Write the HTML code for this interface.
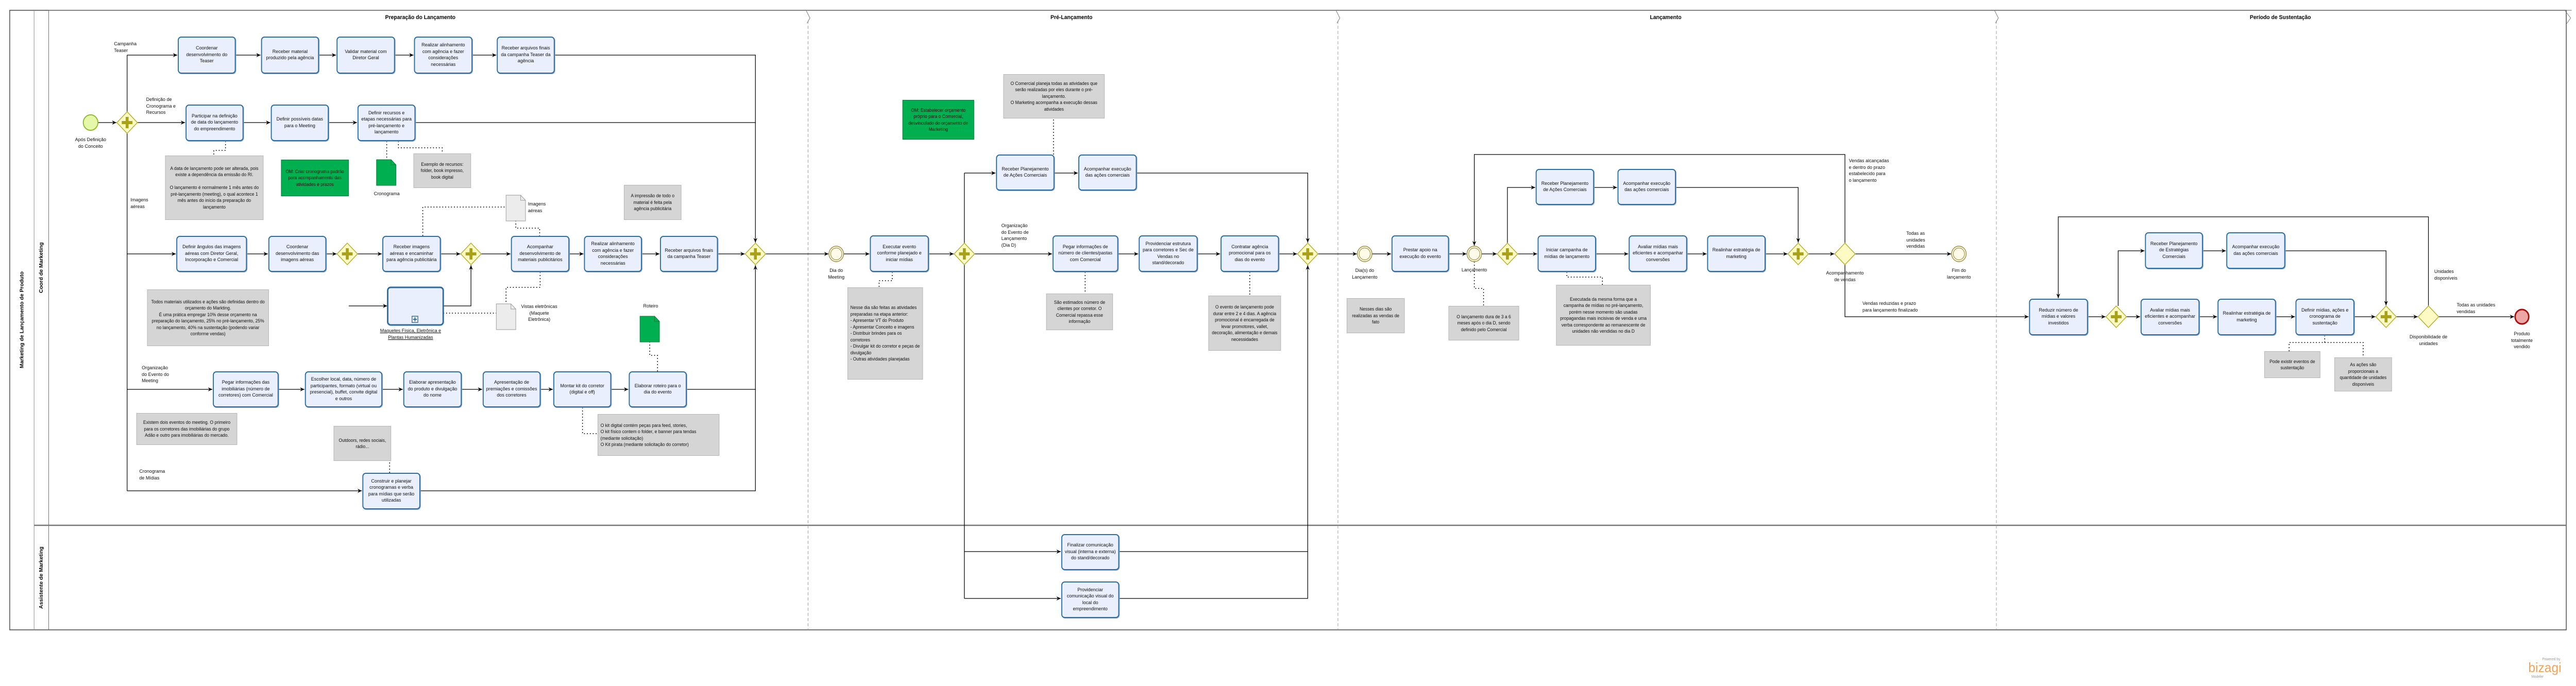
<!DOCTYPE html>
<html><head><meta charset="utf-8"><style>
html,body{margin:0;padding:0;background:#fff;width:100%;height:100%;overflow:hidden;}
#outer{display:block;width:100vw;height:100vh;}
#c{position:relative;width:5289px;height:1332px;overflow:hidden;font-family:"Liberation Sans",sans-serif;background:#fff;}
#c svg{position:absolute;left:0;top:0;}
.t{position:absolute;box-sizing:border-box;border:2px solid #2a6da5;border-radius:7px;background:#e9effd;display:flex;align-items:center;justify-content:center;text-align:center;font-size:9.5px;line-height:12.5px;color:#111;padding:2px 5px;box-shadow:1px 1px 0 #9ab;overflow:hidden;}
.n{position:absolute;box-sizing:border-box;background:#d5d5d5;border:1px solid #b5b5b5;display:flex;align-items:center;justify-content:center;text-align:center;font-size:9px;line-height:12.5px;color:#111;padding:3px 5px;overflow:hidden;}
.g{position:absolute;box-sizing:border-box;background:#00b050;border:1px solid #0a7a3a;display:flex;align-items:center;justify-content:center;text-align:center;font-size:9px;line-height:12.5px;color:#111;padding:3px 5px;overflow:hidden;}
.l{position:absolute;font-size:9.5px;line-height:12.5px;color:#111;white-space:nowrap;}
.lc{position:absolute;font-size:9.5px;line-height:12.5px;color:#111;text-align:center;white-space:nowrap;width:160px;}
.h{position:absolute;font-size:11px;font-weight:bold;white-space:nowrap;width:300px;text-align:center;}
.v{position:absolute;font-size:10.5px;font-weight:bold;white-space:nowrap;writing-mode:vertical-rl;transform:rotate(180deg);display:flex;align-items:center;justify-content:center;}
</style></head><body>
<svg id="outer" viewBox="0 0 5289 1332" preserveAspectRatio="none" xmlns="http://www.w3.org/2000/svg">
<foreignObject x="0" y="0" width="5289" height="1332">
<div xmlns="http://www.w3.org/1999/xhtml" id="c">
<svg width="5289" height="1332" xmlns="http://www.w3.org/2000/svg">
<defs>
<marker id="a" markerWidth="10" markerHeight="10" refX="9" refY="5" orient="auto" markerUnits="userSpaceOnUse"><path d="M0,1 L9,5 L0,9 L3,5 z" fill="#000"/></marker>
<g id="pg"><path d="M0,-21 L21,0 L0,21 L-21,0 z" fill="#fdfbc3" stroke="#b2ae2a" stroke-width="1.5"/><path d="M-3,-11 h6 v8 h8 v6 h-8 v8 h-6 v-8 h-8 v-6 h8 z" fill="#a9a11a"/></g>
<g id="xg"><path d="M0,-21 L21,0 L0,21 L-21,0 z" fill="#fdfbc3" stroke="#b2ae2a" stroke-width="1.5"/></g>
<g id="ie"><circle r="15" fill="#fffbe8" stroke="#9c9040" stroke-width="1.5"/><circle r="11.5" fill="none" stroke="#9c9040" stroke-width="1.2"/></g>
<g id="gd"><path d="M-20,-25 h30 l10,10 v40 h-40 z" fill="#00b050" stroke="#0a7a3a"/><path d="M10,-25 v10 h10" fill="none" stroke="#0a7a3a"/></g>
<g id="wd"><path d="M-20,-25 h30 l10,10 v40 h-40 z" fill="#ececec" stroke="#999"/><path d="M10,-25 v10 h10" fill="none" stroke="#999"/></g>
</defs>
<rect x="20" y="20" width="5249" height="1203" fill="none" stroke="#444" stroke-width="1.5"/>
<line x1="70" y1="20" x2="70" y2="1223" stroke="#888" stroke-width="1"/>
<line x1="100" y1="20" x2="100" y2="1223" stroke="#666" stroke-width="1"/>
<line x1="70" y1="1020" x2="5269" y2="1020" stroke="#777" stroke-width="2.5"/>
<line x1="100" y1="20" x2="5280" y2="20" stroke="#666" stroke-width="1"/>
<g stroke="#999" stroke-width="1" stroke-dasharray="6,4" fill="none">
<line x1="1659" y1="40" x2="1659" y2="1223"/><line x1="2747" y1="40" x2="2747" y2="1223"/><line x1="4099" y1="40" x2="4099" y2="1223"/>
</g>
<g stroke="#777" fill="none" stroke-width="1"><path d="M1655,20 l8,15 l-6,10"/><path d="M2743,20 l8,15 l-6,10"/><path d="M4095,20 l8,15 l-6,10"/><path d="M5266,20 l12,15 l-9,12"/></g>

<g stroke="#000" stroke-width="1.3" fill="none">
<line x1="201" y1="238" x2="239" y2="238" marker-end="url(#a)"/>
<line x1="261" y1="107" x2="261" y2="953"/>
<line x1="261" y1="107" x2="364" y2="107" marker-end="url(#a)"/>
<line x1="484" y1="107" x2="535" y2="107" marker-end="url(#a)"/>
<line x1="655" y1="107" x2="690" y2="107" marker-end="url(#a)"/>
<line x1="811" y1="107" x2="849" y2="107" marker-end="url(#a)"/>
<line x1="970" y1="107" x2="1019" y2="107" marker-end="url(#a)"/>
<path d="M1139,107 H1551 V471" marker-end="url(#a)"/>
<line x1="282" y1="238" x2="380" y2="238" marker-end="url(#a)"/>
<line x1="500" y1="238" x2="555" y2="238" marker-end="url(#a)"/>
<line x1="675" y1="238" x2="733" y2="238" marker-end="url(#a)"/>
<path d="M853,238 H1551"/>
<line x1="261" y1="493" x2="361" y2="493" marker-end="url(#a)"/>
<line x1="507" y1="493" x2="550" y2="493" marker-end="url(#a)"/>
<line x1="670" y1="493" x2="691" y2="493" marker-end="url(#a)"/>
<line x1="734" y1="493" x2="784" y2="493" marker-end="url(#a)"/>
<line x1="905" y1="493" x2="945" y2="493" marker-end="url(#a)"/>
<line x1="988" y1="493" x2="1048" y2="493" marker-end="url(#a)"/>
<line x1="1169" y1="493" x2="1198" y2="493" marker-end="url(#a)"/>
<line x1="1318" y1="493" x2="1354" y2="493" marker-end="url(#a)"/>
<line x1="1474" y1="493" x2="1529" y2="493" marker-end="url(#a)"/>
<line x1="1572" y1="493" x2="1701" y2="493" marker-end="url(#a)"/>
<line x1="716" y1="594" x2="795" y2="594" marker-end="url(#a)"/>
<path d="M910,594 H967 V515" marker-end="url(#a)"/>
<line x1="261" y1="756" x2="436" y2="756" marker-end="url(#a)"/>
<line x1="572" y1="756" x2="625" y2="756" marker-end="url(#a)"/>
<line x1="785" y1="756" x2="827" y2="756" marker-end="url(#a)"/>
<line x1="948" y1="756" x2="990" y2="756" marker-end="url(#a)"/>
<line x1="1110" y1="756" x2="1135" y2="756" marker-end="url(#a)"/>
<line x1="1255" y1="756" x2="1290" y2="756" marker-end="url(#a)"/>
<path d="M1410,756 H1551"/>
<line x1="261" y1="953" x2="743" y2="953" marker-end="url(#a)"/>
<path d="M863,953 H1551 V515" marker-end="url(#a)"/>
<line x1="1732" y1="493" x2="1785" y2="493" marker-end="url(#a)"/>
<line x1="1907" y1="493" x2="1958" y2="493" marker-end="url(#a)"/>
<line x1="1980" y1="336" x2="1980" y2="1162"/>
<line x1="1980" y1="336" x2="2044" y2="336" marker-end="url(#a)"/>
<line x1="2165" y1="336" x2="2213" y2="336" marker-end="url(#a)"/>
<path d="M2334,336 H2685 V471" marker-end="url(#a)"/>
<line x1="2001" y1="493" x2="2160" y2="493" marker-end="url(#a)"/>
<line x1="2296" y1="493" x2="2337" y2="493" marker-end="url(#a)"/>
<line x1="2459" y1="493" x2="2505" y2="493" marker-end="url(#a)"/>
<line x1="2626" y1="493" x2="2663" y2="493" marker-end="url(#a)"/>
<line x1="1980" y1="1071" x2="2178" y2="1071" marker-end="url(#a)"/>
<line x1="1980" y1="1162" x2="2178" y2="1162" marker-end="url(#a)"/>
<path d="M2298,1071 H2685"/>
<path d="M2298,1162 H2685 V515" marker-end="url(#a)"/>
<line x1="2706" y1="493" x2="2786" y2="493" marker-end="url(#a)"/>
<line x1="2817" y1="493" x2="2856" y2="493" marker-end="url(#a)"/>
<line x1="2975" y1="493" x2="3011" y2="493" marker-end="url(#a)"/>
<line x1="3042" y1="493" x2="3073" y2="493" marker-end="url(#a)"/>
<line x1="3116" y1="493" x2="3156" y2="493" marker-end="url(#a)"/>
<path d="M3095,472 V364 H3152" marker-end="url(#a)"/>
<line x1="3273" y1="364" x2="3320" y2="364" marker-end="url(#a)"/>
<path d="M3441,364 H3692 V471" marker-end="url(#a)"/>
<line x1="3277" y1="493" x2="3343" y2="493" marker-end="url(#a)"/>
<line x1="3464" y1="493" x2="3504" y2="493" marker-end="url(#a)"/>
<line x1="3625" y1="493" x2="3670" y2="493" marker-end="url(#a)"/>
<line x1="3713" y1="493" x2="3766" y2="493" marker-end="url(#a)"/>
<line x1="3809" y1="493" x2="4006" y2="493" marker-end="url(#a)"/>
<path d="M3788,472 V300 H3027 V477" marker-end="url(#a)"/>
<path d="M3788,514 V615 H4165" marker-end="url(#a)"/>
<line x1="4287" y1="615" x2="4323" y2="615" marker-end="url(#a)"/>
<line x1="4366" y1="615" x2="4394" y2="615" marker-end="url(#a)"/>
<line x1="4516" y1="615" x2="4552" y2="615" marker-end="url(#a)"/>
<line x1="4673" y1="615" x2="4712" y2="615" marker-end="url(#a)"/>
<line x1="4834" y1="615" x2="4877" y2="615" marker-end="url(#a)"/>
<line x1="4920" y1="615" x2="4964" y2="615" marker-end="url(#a)"/>
<line x1="5007" y1="615" x2="5162" y2="615" marker-end="url(#a)"/>
<path d="M4349,594 V487 H4403" marker-end="url(#a)"/>
<line x1="4523" y1="487" x2="4570" y2="487" marker-end="url(#a)"/>
<path d="M4692,487 H4899 V593" marker-end="url(#a)"/>
<path d="M4986,594 V421 H4226 V579" marker-end="url(#a)"/>
</g>
<g stroke="#000" stroke-width="1.5" fill="none" stroke-dasharray="2,4">
<path d="M463,274 V292 H439 V302"/>
<path d="M794,274 V308"/>
<path d="M818,274 V287 H908 V298"/>
<path d="M868,458 V402 H1039"/>
<path d="M1059,428 V443 H1108 V458"/>
<path d="M1109,528 V558 H1039 V590"/>
<path d="M910,608 H1019"/>
<path d="M1350,721 V690 H1334 V663"/>
<path d="M1196,791 V842 H1227"/>
<path d="M744,870 H800 V918"/>
<path d="M1832,528 V545 H1805 V558"/>
<path d="M2163,300 V272 H2163 V230"/>
<path d="M2228,528 V570"/>
<path d="M2566,528 V574"/>
<path d="M3027,508 V560 H3046 V594"/>
<path d="M3217,528 V538 H3290 V553"/>
<path d="M4773,651 V665 H4700 V682"/>
<path d="M4773,665 H4852 V694"/>
</g>
<circle cx="186" cy="238" r="15" fill="#e4f8a8" stroke="#8dbb2f" stroke-width="2"/>
<use href="#pg" x="261" y="238"/>
<use href="#pg" x="713" y="493"/>
<use href="#pg" x="967" y="493"/>
<use href="#pg" x="1551" y="493"/>
<use href="#ie" x="1717" y="493"/>
<use href="#pg" x="1980" y="493"/>
<use href="#pg" x="2685" y="493"/>
<use href="#ie" x="2802" y="493"/>
<use href="#ie" x="3027" y="493"/>
<use href="#pg" x="3095" y="493"/>
<use href="#pg" x="3692" y="493"/>
<use href="#xg" x="3788" y="493"/>
<use href="#ie" x="4022" y="493"/>
<use href="#pg" x="4345" y="615"/>
<use href="#pg" x="4899" y="615"/>
<use href="#xg" x="4986" y="615"/>
<circle cx="5178" cy="615" r="14" fill="#eea5a5" stroke="#a81010" stroke-width="3"/>
<use href="#gd" x="793" y="335"/>
<use href="#wd" x="1059" y="404"/>
<use href="#wd" x="1039" y="615"/>
<use href="#gd" x="1334" y="639"/>
<rect x="796" y="558" width="114" height="73" rx="6" fill="#e9effd" stroke="#2a6da5" stroke-width="3"/>
<rect x="846" y="614" width="12" height="12" fill="#fff" stroke="#2a6da5" stroke-width="1.5"/>
<path d="M852,616 v8 M848,620 h8" stroke="#2a6da5" stroke-width="2"/>
<text x="5225" y="1305" font-family="Liberation Sans" font-size="26" fill="#f3a25a" text-anchor="middle">bizagi</text>
<text x="5238" y="1282" font-family="Liberation Sans" font-size="7" fill="#999" text-anchor="middle">Powered by</text>
<text x="5210" y="1316" font-family="Liberation Sans" font-size="7" fill="#999" text-anchor="middle">Modeler</text>
</svg>

<div class="v" style="left:22px;top:20px;width:46px;height:1203px">Marketing de Lançamento de Produto</div>
<div class="v" style="left:71px;top:20px;width:28px;height:1000px">Coord de Marketing</div>
<div class="v" style="left:71px;top:1021px;width:28px;height:202px">Assistente de Marketing</div>
<div class="h" style="left:713px;top:28px">Preparação do Lançamento</div>
<div class="h" style="left:2050px;top:28px">Pré-Lançamento</div>
<div class="h" style="left:3270px;top:28px">Lançamento</div>
<div class="h" style="left:4532px;top:28px">Período de Sustentação</div>

<div class="t" style="left:365px;top:71px;width:119px;height:72px">Coordenar desenvolvimento do Teaser</div>
<div class="t" style="left:536px;top:71px;width:119px;height:72px">Receber material produzido pela agência</div>
<div class="t" style="left:691px;top:71px;width:120px;height:72px">Validar material com Diretor Geral</div>
<div class="t" style="left:850px;top:71px;width:120px;height:72px">Realizar alinhamento com agência e fazer considerações necessárias</div>
<div class="t" style="left:1020px;top:71px;width:119px;height:72px">Receber arquivos finais da campanha Teaser da agência</div>
<div class="t" style="left:381px;top:203px;width:119px;height:71px">Participar na definição de data do lançamento do empreendimento</div>
<div class="t" style="left:556px;top:203px;width:119px;height:71px">Definir possíveis datas para o Meeting</div>
<div class="t" style="left:734px;top:203px;width:119px;height:71px">Definir recursos e etapas necessárias para pré-lançamento e lançamento</div>
<div class="t" style="left:362px;top:458px;width:145px;height:70px">Definir ângulos das imagens aéreas com Diretor Geral, Incorporação e Comercial</div>
<div class="t" style="left:551px;top:458px;width:119px;height:70px">Coordenar desenvolvimento das imagens aéreas</div>
<div class="t" style="left:785px;top:458px;width:120px;height:70px">Receber imagens aéreas e encaminhar para agência publicitária</div>
<div class="t" style="left:1049px;top:458px;width:120px;height:70px">Acompanhar desenvolvimento de materiais publicitários</div>
<div class="t" style="left:1199px;top:458px;width:119px;height:70px">Realizar alinhamento com agência e fazer considerações necessárias</div>
<div class="t" style="left:1355px;top:458px;width:119px;height:70px">Receber arquivos finais da campanha Teaser</div>
<div class="t" style="left:437px;top:721px;width:135px;height:70px">Pegar informações das imobiliárias (número de corretores) com Comercial</div>
<div class="t" style="left:626px;top:721px;width:159px;height:70px">Escolher local, data, número de participantes, formato (virtual ou presencial), buffet, convite digital e outros</div>
<div class="t" style="left:828px;top:721px;width:120px;height:70px">Elaborar apresentação do produto e divulgação do nome</div>
<div class="t" style="left:991px;top:721px;width:119px;height:70px">Apresentação de premiações e comissões dos corretores</div>
<div class="t" style="left:1136px;top:721px;width:119px;height:70px">Montar kit do corretor (digital e off)</div>
<div class="t" style="left:1291px;top:721px;width:119px;height:70px">Elaborar roteiro para o dia do evento</div>
<div class="t" style="left:744px;top:918px;width:119px;height:71px">Construir e planejar cronogramas e verba para mídias que serão utilizadas</div>

<div class="l" style="left:234px;top:80px">Campanha<br/>Teaser</div>
<div class="l" style="left:300px;top:188px">Definição de<br/>Cronograma e<br/>Recursos</div>
<div class="lc" style="left:106px;top:266px">Após Definição<br/>do Conceito</div>
<div class="l" style="left:268px;top:383px">Imagens<br/>aéreas</div>
<div class="l" style="left:291px;top:709px">Organização<br/>do Evento do<br/>Meeting</div>
<div class="l" style="left:286px;top:910px">Cronograma<br/>de Mídias</div>
<div class="lc" style="left:714px;top:371px">Cronograma</div>
<div class="l" style="left:1084px;top:391px">Imagens<br/>aéreas</div>
<div class="l" style="left:1070px;top:590px;text-align:center">Vistas eletrônicas<br/>(Maquete<br/>Eletrônica)</div>
<div class="lc" style="left:1256px;top:589px">Roteiro</div>
<div class="lc" style="left:763px;top:637px;text-decoration:underline">Maquetes Física, Eletrônica e<br/>Plantas Humanizadas</div>

<div class="n" style="left:339px;top:302px;width:202px;height:125px">A data de lançamento pode ser alterada, pois existe a dependência da emissão do RI.<br/><br/>O lançamento é normalmente 1 mês antes do pré-lançamento (meeting), o qual acontece 1 mês antes do início da preparação do lançamento</div>
<div class="g" style="left:577px;top:310px;width:139px;height:71px">OM: Criar cronograma padrão para acompanhamento das atividades e prazos</div>
<div class="n" style="left:849px;top:298px;width:118px;height:67px">Exemplo de recursos: folder, book impresso, book digital</div>
<div class="n" style="left:1281px;top:359px;width:118px;height:68px">A impressão de todo o material é feita pela agência publicitária</div>
<div class="n" style="left:302px;top:562px;width:250px;height:110px">Todos materiais utilizados e ações são definidas dentro do orçamento do Markting.<br/>É uma prática empregar 10% desse orçamento na preparação do lançamento, 25% no pré-lançamento, 25% no lançamento, 40% na sustentação (podendo variar conforme vendas)</div>
<div class="n" style="left:280px;top:802px;width:207px;height:62px">Existem dois eventos do meeting. O primeiro para os corretores das imobiliárias do grupo Adão e outro para imobiliárias do mercado.</div>
<div class="n" style="left:685px;top:827px;width:118px;height:68px">Outdoors, redes sociais, rádio...</div>
<div class="n" style="left:1227px;top:804px;width:250px;height:81px;text-align:left;justify-content:flex-start">O kit digital contém peças para feed, stories,<br/>O kit físico contem o folder, e banner para tendas (mediante solicitação)<br/>O Kit pirata (mediante solicitação do corretor)</div>

<div class="lc" style="left:1637px;top:520px">Dia do<br/>Meeting</div>
<div class="t" style="left:1786px;top:457px;width:121px;height:71px">Executar evento conforme planejado e iniciar mídias</div>
<div class="t" style="left:2045px;top:300px;width:120px;height:70px">Receber Planejamento de Ações Comerciais</div>
<div class="t" style="left:2214px;top:300px;width:120px;height:70px">Acompanhar execução das ações comerciais</div>
<div class="t" style="left:2161px;top:457px;width:135px;height:71px">Pegar informações de número de clientes/pastas com Comercial</div>
<div class="t" style="left:2338px;top:457px;width:121px;height:71px">Providenciar estrutura para corretores e Sec de Vendas no stand/decorado</div>
<div class="t" style="left:2506px;top:457px;width:120px;height:71px">Contratar agência promocional para os dias do evento</div>
<div class="t" style="left:2179px;top:1037px;width:119px;height:70px">Finalizar comunicação visual (interna e externa) do stand/decorado</div>
<div class="t" style="left:2179px;top:1129px;width:119px;height:71px">Providenciar comunicação visual do local do empreendimento</div>
<div class="l" style="left:2056px;top:433px">Organização<br/>do Evento de<br/>Lançamento<br/>(Dia D)</div>
<div class="n" style="left:1740px;top:558px;width:155px;height:179px;text-align:left;justify-content:flex-start">Nesse dia são feitas as atividades preparadas na etapa anterior:<br/>- Apresentar VT do Produto<br/>- Apresentar Conceito e imagens<br/>- Distribuir brindes para os corretores<br/>- Divulgar kit do corretor e peças de divulgação<br/>- Outras atividades planejadas</div>
<div class="g" style="left:1853px;top:194px;width:147px;height:77px">OM: Estabelecer orçamento próprio para o Comercial, desvinculado do orçamento de Marketing</div>
<div class="n" style="left:2060px;top:144px;width:208px;height:86px">O Comercial planeja todas as atividades que serão realizadas por eles durante o pré-lançamento.<br/>O Marketing acompanha a execução dessas atividades</div>
<div class="n" style="left:2148px;top:570px;width:137px;height:71px">São estimados número de clientes por corretor. O Comercial repassa esse informação</div>
<div class="n" style="left:2481px;top:574px;width:149px;height:107px">O evento de lançamento pode durar entre 2 e 4 dias. A agência promocional é encarregada de levar promotores, vallet, decoração, alimentação e demais necessidades</div>

<div class="lc" style="left:2722px;top:520px">Dia(s) do<br/>Lançamento</div>
<div class="n" style="left:2765px;top:579px;width:119px;height:68px">Nesses dias são realizadas as vendas de fato</div>
<div class="t" style="left:2857px;top:457px;width:118px;height:71px">Prestar apoio na execução do evento</div>
<div class="lc" style="left:2947px;top:519px">Lançamento</div>
<div class="n" style="left:2974px;top:594px;width:145px;height:67px">O lançamento dura de 3 a 6 meses após o dia D, sendo definido pelo Comercial</div>
<div class="t" style="left:3153px;top:328px;width:120px;height:70px">Receber Planejamento de Ações Comerciais</div>
<div class="t" style="left:3321px;top:328px;width:120px;height:70px">Acompanhar execução das ações comerciais</div>
<div class="t" style="left:3157px;top:457px;width:120px;height:71px">Iniciar campanha de mídias de lançamento</div>
<div class="t" style="left:3344px;top:457px;width:120px;height:71px">Avaliar mídias mais eficientes e acompanhar conversões</div>
<div class="t" style="left:3505px;top:457px;width:120px;height:71px">Realinhar estratégia de marketing</div>
<div class="n" style="left:3195px;top:553px;width:194px;height:118px">Executada da mesma forma que a campanha de mídias no pré-lançamento, porém nesse momento são usadas propagandas mais incisivas de venda e uma verba correspondente ao remanescente de unidades não vendidas no dia D</div>
<div class="lc" style="left:3708px;top:525px">Acompanhamento<br/>de vendas</div>
<div class="l" style="left:3796px;top:307px">Vendas alcançadas<br/>e dentro do prazo<br/>estabelecido para<br/>o lançamento</div>
<div class="l" style="left:3914px;top:448px">Todas as<br/>unidades<br/>vendidas</div>
<div class="lc" style="left:3942px;top:520px">Fim do<br/>lançamento</div>
<div class="l" style="left:3824px;top:584px">Vendas reduzidas e prazo<br/>para lançamento finalizado</div>

<div class="t" style="left:4166px;top:580px;width:121px;height:71px">Reduzir número de mídias e valores investidos</div>
<div class="t" style="left:4395px;top:580px;width:121px;height:71px">Avaliar mídias mais eficientes e acompanhar conversões</div>
<div class="t" style="left:4553px;top:580px;width:120px;height:71px">Realinhar estratégia de marketing</div>
<div class="t" style="left:4713px;top:580px;width:121px;height:71px">Definir mídias, ações e cronograma de sustentação</div>
<div class="t" style="left:4404px;top:451px;width:119px;height:71px">Receber Planejamento de Estratégias Comerciais</div>
<div class="t" style="left:4571px;top:451px;width:121px;height:71px">Acompanhar execução das ações comerciais</div>
<div class="n" style="left:4649px;top:682px;width:115px;height:52px">Pode existir eventos de sustentação</div>
<div class="n" style="left:4793px;top:694px;width:118px;height:66px">As ações são proporcionais a quantidade de unidades disponíveis</div>
<div class="l" style="left:4998px;top:522px">Unidades<br/>disponíveis</div>
<div class="lc" style="left:4906px;top:649px">Disponibilidade de<br/>unidades</div>
<div class="l" style="left:5044px;top:587px">Todas as unidades<br/>vendidas</div>
<div class="lc" style="left:5098px;top:643px">Produto<br/>totalmente<br/>vendido</div>
</div>
</foreignObject>
</svg>
</body></html>
